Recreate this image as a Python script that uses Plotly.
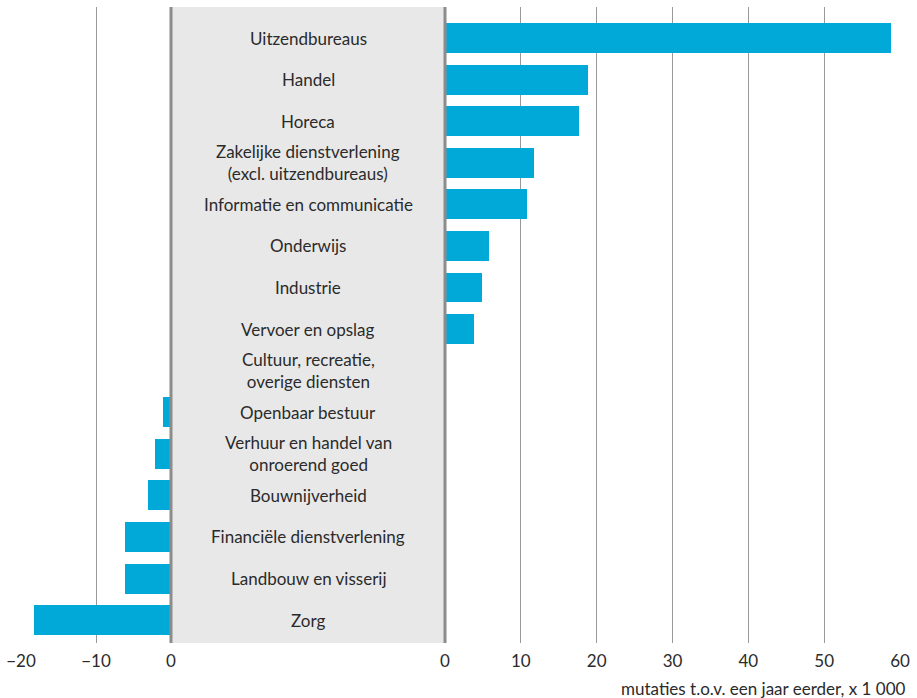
"""
Banen per bedrijfstak: mutaties t.o.v. een jaar eerder (x 1 000).
"""
import plotly.graph_objects as go

BAR_COLOR = "#00a9d8"
PANEL_COLOR = "#e8e8e8"
BORDER_COLOR = "#8c8c8c"
GRID_COLOR = "#999999"
TEXT_COLOR = "#2b2b2b"
FONT = "Lato"
FONT_SIZE = 17

categories = [
    "Uitzendbureaus",
    "Handel",
    "Horeca",
    "Zakelijke dienstverlening<br>(excl. uitzendbureaus)",
    "Informatie en communicatie",
    "Onderwijs",
    "Industrie",
    "Vervoer en opslag",
    "Cultuur, recreatie,<br>overige diensten",
    "Openbaar bestuur",
    "Verhuur en handel van<br>onroerend goed",
    "Bouwnijverheid",
    "Financiële dienstverlening",
    "Landbouw en visserij",
    "Zorg",
]
values = [58.8, 18.8, 17.7, 11.8, 10.8, 5.8, 4.9, 3.8, 0.0,
          -1.1, -2.1, -3.1, -6.1, -6.1, -18.3]

left_ticks = [-20, -10, 0]
right_ticks = [0, 10, 20, 30, 40, 50, 60]

W, H = 917, 698
rows = list(range(len(categories)))

fig = go.Figure()

# negatieve kant (links van het labelpaneel)
fig.add_trace(go.Bar(
    x=[min(v, 0) for v in values], y=rows, orientation="h",
    xaxis="x", yaxis="y", marker=dict(color=BAR_COLOR, line=dict(width=0)),
    width=0.72, hoverinfo="skip", showlegend=False,
))
# positieve kant (rechts van het labelpaneel)
fig.add_trace(go.Bar(
    x=[max(v, 0) for v in values], y=rows, orientation="h",
    xaxis="x2", yaxis="y", marker=dict(color=BAR_COLOR, line=dict(width=0)),
    width=0.72, hoverinfo="skip", showlegend=False,
))

panel_l, panel_r = 171 / W, 445 / W

axis_common = dict(
    showgrid=True, gridcolor=GRID_COLOR, gridwidth=1, zeroline=False,
    showline=False, ticks="", automargin=False, ticklabelstandoff=6,
    tickfont=dict(size=FONT_SIZE, color=TEXT_COLOR, family=FONT),
    fixedrange=True,
)

fig.update_layout(
    width=W, height=H,
    margin=dict(l=0, r=0, t=7, b=55),
    plot_bgcolor="white", paper_bgcolor="white",
    font=dict(family=FONT, color=TEXT_COLOR),
    bargap=0,
    xaxis=dict(domain=[21 / W, panel_l], range=[-20, 0], tickvals=left_ticks,
               anchor="y", **axis_common),
    xaxis2=dict(domain=[panel_r, 900 / W], range=[0, 60], tickvals=right_ticks,
                anchor="y", **axis_common),
    yaxis=dict(range=[14.55, -0.746], visible=False, fixedrange=True),
)

# grijs labelpaneel met donkere randen
fig.add_shape(type="rect", xref="paper", yref="paper",
              x0=panel_l, x1=panel_r, y0=0, y1=1,
              fillcolor=PANEL_COLOR, line=dict(width=0), layer="below")
for xp in (panel_l, panel_r):
    fig.add_shape(type="line", xref="paper", yref="paper",
                  x0=xp, x1=xp, y0=0, y1=1,
                  line=dict(color=BORDER_COLOR, width=3), layer="above")

for i, name in enumerate(categories):
    fig.add_annotation(
        x=(panel_l + panel_r) / 2, xref="paper", y=i, yref="y",
        text=name, showarrow=False, xanchor="center", yanchor="middle",
        font=dict(size=FONT_SIZE, color=TEXT_COLOR, family=FONT), align="center",
    )

fig.add_annotation(
    x=908 / W, xref="paper", y=-0.071, yref="paper",
    text="mutaties t.o.v. een jaar eerder, x 1 000", showarrow=False,
    xanchor="right", yanchor="middle",
    font=dict(size=FONT_SIZE, color=TEXT_COLOR, family=FONT),
)

fig.write_html(
    "out.html",
    config={"displayModeBar": False},
    post_script="document.body.style.margin='0';document.body.style.overflow='hidden';",
)
